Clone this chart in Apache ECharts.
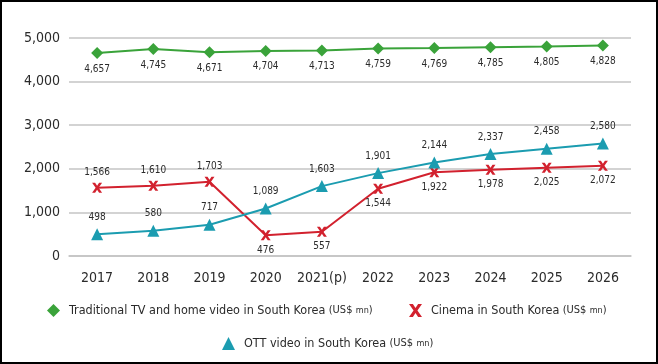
<!DOCTYPE html>
<html>
<head>
<meta charset="utf-8">
<script src="https://cdn.jsdelivr.net/npm/echarts@6/dist/echarts.min.js"></script>
<style>
html,body{margin:0;padding:0;background:#fff;}
#frame{width:658px;height:364px;box-sizing:border-box;border:2px solid #000;position:relative;overflow:hidden;}
#chart{position:absolute;left:-2px;top:-2px;width:658px;height:364px;}
</style>
</head>
<body>
<div id="frame"><div id="chart"></div></div>
<script>
const categories = ['2017','2018','2019','2020','2021(p)','2022','2023','2024','2025','2026'];
const tvValues = [4657,4745,4671,4704,4713,4759,4769,4785,4805,4828];
const cinemaValues = [1566,1610,1703,476,557,1544,1922,1978,2025,2072];
const ottValues = [498,580,717,1089,1603,1901,2144,2337,2458,2580];
const yTicks = [0,1000,2000,3000,4000,5000];

const FONT = "'Liberation Sans Narrow','DejaVu Sans Condensed','Roboto',sans-serif";
const TXT = '#2b2b2b';
const GREEN = '#3aa33a';
const RED = '#d2212e';
const TEAL = '#1b9cb0';
const fmt = v => Number(v).toLocaleString('en-US');
const xPath = 'path://M0,0 L3,0 L5,3 L7,0 L10,0 L6.5,5 L10,10 L7,10 L5,7 L3,10 L0,10 L3.5,5 Z';

const chart = echarts.init(document.getElementById('chart'), null, {renderer:'canvas'});

const legendRich = {
  n:{fontFamily:FONT,fontSize:12.5,color:TXT,padding:[0,0,0,4]},
  u:{fontFamily:FONT,fontSize:11,color:TXT},
  m:{fontFamily:FONT,fontSize:9,color:TXT}
};
const legendFmt = name => '{n|' + name + '} {u|(US$} {m|mn}{u|)}';
const mkLegend = (name, icon, left, top) => ({
  data:[{name:name, icon:icon}],
  left:left, top:top, itemWidth:13, itemHeight:13,
  formatter:legendFmt, textStyle:{rich:legendRich}
});

const labelStyle = {show:true,fontFamily:FONT,fontSize:10,color:TXT,formatter:p=>fmt(p.value)};

chart.setOption({
  backgroundColor:'#ffffff',
  animation:false,
  grid:{left:69,right:27,top:38,bottom:108,containLabel:false},
  legend:[
    mkLegend('Traditional TV and home video in South Korea','diamond',42,299),
    mkLegend('Cinema in South Korea',xPath,404,299),
    mkLegend('OTT video in South Korea','triangle',217,332)
  ],
  xAxis:{
    type:'category',
    data:categories,
    boundaryGap:true,
    axisLine:{lineStyle:{color:'#c4c4c4',width:1.5}},
    axisTick:{alignWithLabel:true,length:4,lineStyle:{color:'#b0b0b0',width:1}},
    axisLabel:{fontFamily:FONT,fontSize:14,color:TXT,margin:15,interval:0}
  },
  yAxis:{
    type:'value',
    min:yTicks[0], max:yTicks[yTicks.length-1], interval:1000,
    axisLine:{show:false},
    axisTick:{show:false},
    axisLabel:{fontFamily:FONT,fontSize:14,color:TXT,margin:9,formatter:v=>fmt(v)},
    splitLine:{lineStyle:{color:'#c4c4c4',width:1.5}}
  },
  series:[
    {
      name:'Traditional TV and home video in South Korea',
      type:'line', data:tvValues,
      symbol:'diamond', symbolSize:12,
      itemStyle:{color:GREEN}, lineStyle:{color:GREEN,width:2},
      label:Object.assign({},labelStyle,{position:'bottom',distance:5})
    },
    {
      name:'Cinema in South Korea',
      type:'line',
      data:cinemaValues.map((v,i)=>({value:v,label:{position: i<3?'top':'bottom'}})),
      symbol:xPath, symbolSize:10,
      itemStyle:{color:RED}, lineStyle:{color:RED,width:2},
      label:Object.assign({},labelStyle,{distance:5})
    },
    {
      name:'OTT video in South Korea',
      type:'line', data:ottValues,
      symbol:'triangle', symbolSize:12,
      itemStyle:{color:TEAL}, lineStyle:{color:TEAL,width:2},
      label:Object.assign({},labelStyle,{position:'top',distance:6})
    }
  ]
});
</script>
</body>
</html>
